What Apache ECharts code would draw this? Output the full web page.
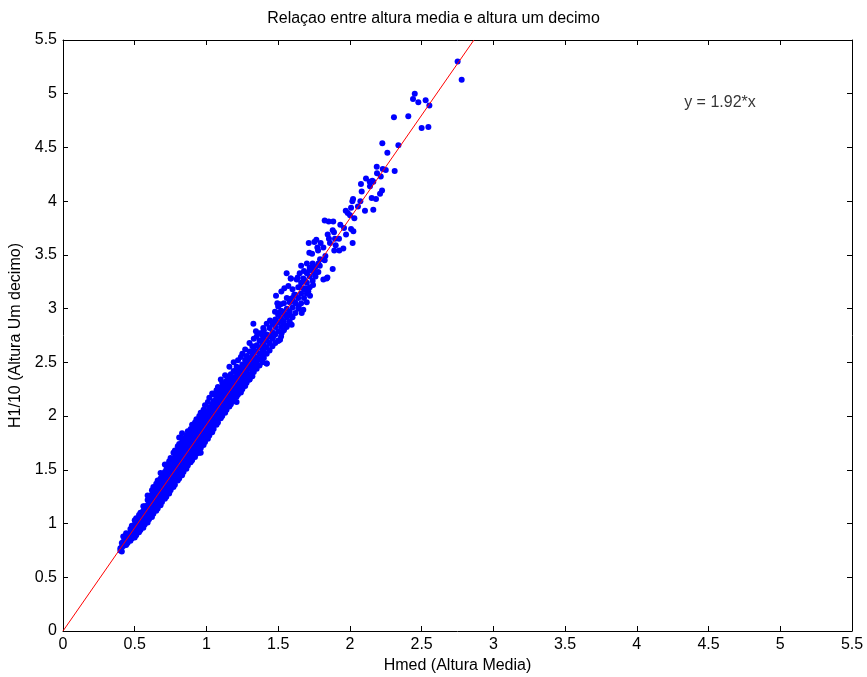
<!DOCTYPE html>
<html>
<head>
<meta charset="utf-8">
<script src="https://cdn.jsdelivr.net/npm/echarts@6/dist/echarts.min.js"></script>
<style>
html,body{margin:0;padding:0;background:#fff;}
#chart{width:867px;height:677px;}
</style>
</head>
<body>
<div id="chart"></div>
<script>
// ---- data ----
const titleText = 'Relaçao entre altura media e altura um decimo';
const xName = 'Hmed (Altura Media)';
const yName = 'H1/10 (Altura Um decimo)';
const fitLabel = 'y = 1.92*x';
const fitSlope = 1.92;
const fitX = [0, 2.8646];
const labelPos = [4.33, 4.92];
const tickValues = [0, 0.5, 1, 1.5, 2, 2.5, 3, 3.5, 4, 4.5, 5, 5.5];

// dense band: each row = [Hmed, H1/10 values...]
const bandColumns = [
[0.40,0.75,0.77],[0.41,0.74,0.78,0.82],[0.42,0.79,0.83,0.88],[0.44,0.80,0.84,0.87,0.91],
[0.45,0.82,0.86,0.90],[0.47,0.84,0.88,0.92,0.95],[0.48,0.86,0.90,0.94,0.98],
[0.50,0.87,0.91,0.95,0.99,1.03],[0.51,0.89,0.93,0.97,1.01,1.05],[0.53,0.92,0.96,1.00,1.04,1.08],
[0.54,0.94,0.98,1.02,1.06,1.10],[0.56,0.96,1.00,1.04,1.08,1.12,1.16],[0.57,0.99,1.03,1.07,1.11,1.16],
[0.59,1.01,1.05,1.09,1.13,1.17,1.22,1.26],[0.60,1.04,1.08,1.12,1.16,1.20,1.25],
[0.62,1.06,1.10,1.14,1.18,1.22,1.27,1.31],[0.63,1.09,1.13,1.17,1.21,1.25,1.29,1.34],
[0.65,1.12,1.16,1.20,1.24,1.28,1.33,1.37],[0.66,1.14,1.18,1.22,1.26,1.30,1.35,1.40],
[0.68,1.17,1.21,1.25,1.29,1.33,1.37,1.42,1.47],[0.69,1.20,1.24,1.28,1.32,1.36,1.40,1.45],
[0.71,1.23,1.27,1.31,1.35,1.39,1.43,1.48,1.55],[0.72,1.25,1.29,1.33,1.37,1.41,1.46,1.50,1.54],
[0.74,1.28,1.32,1.36,1.40,1.44,1.48,1.53,1.58],[0.75,1.31,1.35,1.39,1.43,1.47,1.51,1.56,1.61],
[0.77,1.34,1.38,1.42,1.46,1.50,1.54,1.59,1.66],[0.78,1.36,1.40,1.44,1.48,1.52,1.57,1.62,1.68],
[0.80,1.40,1.44,1.48,1.52,1.56,1.60,1.65,1.72],[0.81,1.42,1.46,1.50,1.54,1.58,1.63,1.68,1.74,1.80],
[0.83,1.45,1.49,1.53,1.57,1.61,1.65,1.70,1.76,1.84],[0.84,1.48,1.52,1.56,1.60,1.64,1.68,1.73,1.79],
[0.86,1.51,1.55,1.59,1.63,1.67,1.71,1.76,1.82],[0.87,1.54,1.58,1.62,1.66,1.70,1.74,1.79,1.86],
[0.89,1.57,1.61,1.65,1.69,1.73,1.77,1.82,1.88],[0.90,1.59,1.63,1.67,1.71,1.75,1.80,1.85,1.92],
[0.92,1.62,1.66,1.70,1.74,1.78,1.83,1.88,1.94],[0.93,1.65,1.69,1.73,1.77,1.81,1.85,1.90,1.97],
[0.95,1.66,1.71,1.75,1.79,1.83,1.88,1.93,2.00],[0.96,1.70,1.74,1.78,1.82,1.86,1.91,1.96,2.03],
[0.98,1.73,1.77,1.81,1.85,1.89,1.94,1.99,2.06],[0.99,1.76,1.80,1.84,1.88,1.92,1.97,2.02,2.10],
[1.01,1.79,1.83,1.87,1.91,1.95,2.00,2.05,2.13],[1.02,1.82,1.86,1.90,1.94,1.98,2.03,2.08,2.17],
[1.04,1.85,1.89,1.93,1.97,2.01,2.06,2.11,2.21],[1.05,1.88,1.92,1.96,2.00,2.04,2.09,2.14,2.20],
[1.07,1.92,1.96,2.00,2.04,2.08,2.12,2.17,2.24],[1.08,1.94,1.98,2.02,2.06,2.10,2.15,2.20,2.27],
[1.10,1.98,2.02,2.06,2.10,2.14,2.19,2.24,2.34],[1.11,2.00,2.04,2.08,2.12,2.16,2.21,2.27,2.31],
[1.13,2.03,2.07,2.11,2.15,2.19,2.24,2.30,2.38],[1.14,2.06,2.10,2.14,2.18,2.22,2.27,2.33],
[1.16,2.09,2.13,2.17,2.21,2.25,2.30,2.36,2.46],[1.17,2.11,2.15,2.19,2.23,2.28,2.33,2.39],
[1.19,2.14,2.18,2.22,2.26,2.31,2.36,2.42,2.50],[1.21,2.13,2.18,2.22,2.26,2.30,2.35,2.40,2.46],
[1.22,2.20,2.24,2.28,2.32,2.37,2.43,2.52],[1.24,2.22,2.26,2.30,2.34,2.39,2.45,2.55],
[1.25,2.25,2.29,2.33,2.37,2.42,2.48,2.58],[1.27,2.28,2.32,2.36,2.41,2.46,2.52,2.62],
[1.28,2.31,2.35,2.40,2.45,2.50,2.56],[1.30,2.34,2.39,2.44,2.49,2.54,2.60,2.68],
[1.32,2.37,2.42,2.47,2.52,2.58,2.65],[1.33,2.41,2.46,2.51,2.56,2.62,2.72],
[1.35,2.44,2.49,2.54,2.60,2.66,2.74],[1.37,2.47,2.53,2.58,2.64,2.70,2.77],
[1.39,2.50,2.56,2.62,2.68,2.75],[1.40,2.54,2.60,2.66,2.72,2.80],
[1.42,2.49,2.58,2.64,2.70,2.76],[1.44,2.61,2.68,2.74,2.82],[1.46,2.65,2.72,2.78,2.86],
[1.48,2.68,2.76,2.83,2.90],[1.50,2.70,2.79,2.87,2.94,3.02],[1.52,2.74,2.83,2.91,2.98],
[1.54,2.80,2.88,2.95,3.05],[1.56,2.84,2.92,3.00,3.10],[1.58,2.88,2.97,3.06],
[1.60,2.92,3.01,3.10,3.18],[1.62,2.96,3.05,3.13],[1.64,3.00,3.10,3.20],
[1.66,3.05,3.14,3.24],[1.68,3.10,3.18,3.27],[1.70,3.14,3.24,3.33],
[1.72,3.20,3.30,3.38],[1.74,3.26,3.35,3.42],[1.76,3.30,3.39],[1.78,3.34,3.42]
];

// sparse points read individually: [Hmed, H1/10]
const sparsePoints = [
[2.751,5.30],[2.779,5.13],[2.452,5.00],[2.440,4.95],[2.477,4.92],[2.528,4.94],[2.554,4.89],
[2.307,4.78],[2.407,4.79],[2.500,4.68],[2.547,4.69],[2.226,4.54],[2.338,4.52],[2.261,4.45],
[2.187,4.32],[2.229,4.30],[2.250,4.29],[2.312,4.28],[2.189,4.26],[2.215,4.23],[2.112,4.21],
[2.138,4.18],[2.163,4.18],[2.077,4.16],[2.156,4.19],[2.140,4.14],[2.224,4.10],[2.082,4.09],
[2.210,4.07],[2.022,4.02],[2.017,4.00],[2.152,4.03],[2.182,4.02],[2.073,4.00],[2.008,3.94],
[2.056,3.95],[2.163,3.92],[2.105,3.91],[1.971,3.91],[1.985,3.89],[2.001,3.87],[2.031,3.84],
[1.824,3.82],[1.852,3.81],[1.884,3.81],[1.933,3.78],[1.959,3.75],[2.008,3.74],[2.024,3.72],
[1.880,3.73],[1.889,3.71],[1.845,3.69],[1.973,3.69],[1.854,3.65],[1.896,3.65],[1.924,3.65],
[1.766,3.64],[1.752,3.62],[1.713,3.61],[1.796,3.61],[2.019,3.61],[1.861,3.61],[1.901,3.59],
[1.773,3.57],[1.815,3.57],[1.954,3.56],[1.926,3.54],[1.891,3.54],[1.778,3.54],[1.717,3.52],
[1.736,3.51],[1.829,3.49],[1.792,3.46],[1.824,3.45],[1.66,3.40],[1.70,3.42],[1.74,3.38],
[1.68,3.35],[1.72,3.36],[1.76,3.34],[1.79,3.40],[1.65,3.33],[1.880,3.37],[1.838,3.28],
[1.587,3.28],[1.629,3.27],[1.559,3.33],[1.589,3.28],[1.636,3.29],[1.675,3.28],[1.757,3.32],
[1.843,3.29],[1.815,3.27],[1.743,3.22],[1.571,3.21],[1.543,3.19],[1.652,3.20],[1.687,3.19],
[1.710,3.16],[1.722,3.12],[1.699,3.06],[1.485,3.12],[1.522,3.16],[1.612,3.13],[1.494,3.05],
[1.518,3.04],[1.582,3.09],[1.617,3.06],[1.643,3.02],[1.675,2.99],[1.664,2.96],[1.478,2.97],
[1.501,2.96],[1.536,2.97],[1.571,2.95],[1.594,2.93],[1.443,2.89],[1.466,2.86],[1.420,2.86],
[1.536,2.86],[1.559,2.83],[1.594,2.85],[1.327,2.86],[1.345,2.79],[1.396,2.82],[1.385,2.77],
[1.524,2.77],[1.513,2.71],[1.466,2.74],[1.420,2.49],[1.501,2.70],[0.96,1.66],[1.30,2.34]
];

// ---- build ----
const scatterData = [];
bandColumns.forEach(function(col){
  for (let i = 1; i < col.length; i++) scatterData.push([col[0], col[i]]);
});
sparsePoints.forEach(function(p){ scatterData.push(p); });
const fitData = fitX.map(function(x){ return [x, fitSlope * x]; });

const FONT = '"Liberation Sans", Arial, Helvetica, sans-serif';
const FS = 16;
const chart = echarts.init(document.getElementById('chart'), null, {renderer:'canvas'});

function axisBase(pos, showLabels, name, nameGap) {
  return {
    type: 'value', position: pos, min: 0, max: 5.5, interval: 0.5,
    name: showLabels ? name : '', nameLocation: 'middle', nameGap: nameGap,
    nameTextStyle: {color:'#000', fontSize: FS, fontFamily: FONT},
    axisLine: {show: true, onZero: false, lineStyle: {color:'#000', width: 1}},
    axisTick: {show: true, inside: true, length: 5, lineStyle: {color:'#000'}},
    axisLabel: {show: showLabels, color:'#000', fontSize: FS, fontFamily: FONT, margin: 6,
      formatter: function(v){ return String(Math.round(v*10)/10); }},
    splitLine: {show: false}
  };
}

chart.setOption({
  backgroundColor: '#fff',
  animation: false,
  title: {
    text: titleText, left: 'center', top: 6,
    textStyle: {color:'#000', fontSize: FS, fontWeight: 'normal', fontFamily: FONT}
  },
  grid: {left: 63, right: 15, top: 40, bottom: 46, containLabel: false, outerBoundsMode: 'none'},
  xAxis: [
    axisBase('bottom', true, xName, 24),
    axisBase('top', false, '', 0)
  ],
  yAxis: [
    axisBase('left', true, yName, 37),
    axisBase('right', false, '', 0)
  ],
  series: [
    {
      type: 'scatter', xAxisIndex: 0, yAxisIndex: 0,
      data: scatterData, symbol: 'circle', symbolSize: 6,
      itemStyle: {color: '#0000ff', opacity: 1}, silent: true
    },
    {
      type: 'line', xAxisIndex: 0, yAxisIndex: 0,
      data: fitData, showSymbol: false, symbol: 'none',
      lineStyle: {color: '#ff0000', width: 1}, silent: true, clip: true
    },
    {
      type: 'scatter', xAxisIndex: 0, yAxisIndex: 0,
      data: [labelPos], symbolSize: 0, silent: true,
      label: {show: true, position: 'right', distance: 0, formatter: fitLabel,
        color: '#000', fontSize: FS, fontFamily: FONT}
    }
  ]
});
</script>
</body>
</html>
